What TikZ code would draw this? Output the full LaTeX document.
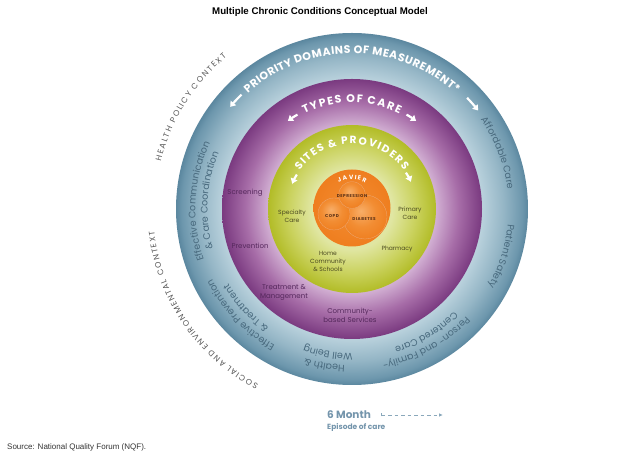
\documentclass[tikz,border=0pt]{standalone}
\usepackage{fontspec}
\setmainfont{Liberation Sans}
\newfontfamily\pop{Poppins}
\newfontfamily\popls[LetterSpace=12]{Poppins}
\usetikzlibrary{decorations.text, arrows.meta}

\definecolor{bDark}{HTML}{5B879F}
\definecolor{bDeep}{HTML}{6D97AD}
\definecolor{bMid}{HTML}{95B6C6}
\definecolor{bLight}{HTML}{BAD2DD}
\definecolor{pDark}{HTML}{7A3A80}
\definecolor{pMid}{HTML}{A76DA8}
\definecolor{pLight}{HTML}{D2B0D3}
\definecolor{gDark}{HTML}{B2BC27}
\definecolor{gMid}{HTML}{CAD25E}
\definecolor{gLight}{HTML}{E0E6A2}
\definecolor{oBase}{HTML}{EF7E1F}
\definecolor{oSoft}{HTML}{F28D33}
\definecolor{oLight}{HTML}{F8AE68}
\definecolor{oDark}{HTML}{E0701A}
\definecolor{blueText}{HTML}{48697D}
\definecolor{purText}{HTML}{55285C}
\definecolor{grnText}{HTML}{4B4A20}
\definecolor{outText}{HTML}{555555}
\definecolor{monthBlue}{HTML}{7495AC}
\definecolor{dashBlue}{HTML}{8AA8BB}
\definecolor{coreText}{HTML}{5A3015}
\definecolor{srcText}{HTML}{333333}

\pgfdeclareradialshading{blueRing}{\pgfpoint{0bp}{0bp}}{color(0bp)=(bLight); color(18.4bp)=(bLight); color(21.5bp)=(bMid); color(24.2bp)=(bDeep); color(25bp)=(bDark); color(50bp)=(bDark)}
\pgfdeclareradialshading{purpleRing}{\pgfpoint{0bp}{0bp}}{color(0bp)=(pLight); color(16.1bp)=(pLight); color(20.5bp)=(pMid); color(25bp)=(pDark); color(50bp)=(pDark)}
\pgfdeclareradialshading{greenDisc}{\pgfpoint{0bp}{0bp}}{color(0bp)=(gLight); color(12bp)=(gLight); color(19bp)=(gMid); color(25bp)=(gDark); color(50bp)=(gDark)}
\pgfdeclareradialshading{orangeDisc}{\pgfpoint{0bp}{0bp}}{color(0bp)=(oSoft); color(25bp)=(oBase); color(50bp)=(oBase)}
\pgfdeclareradialshading{orangeBall}{\pgfpoint{-5bp}{7bp}}{color(0bp)=(oLight); color(16bp)=(oSoft); color(30bp)=(oBase); color(50bp)=(oBase)}

% radius, start, end, colour, font, text  (spread to fill the arc)
\newcommand\fitarc[6]{%
  \path[decorate, decoration={text effects along path, text={#6},
      text effects/.cd, text along path, fit text to path,
      characters={text=#4, font={#5}}}]
    (C) ++(#2:#1) arc[start angle=#2, end angle=#3, radius=#1];}
% radius, start, end, format, text (centred on the arc)
\newcommand\arcline[5]{%
  \path[decorate, decoration={text along path, text align=center,
      text={|#4|#5}}]
    (C) ++(#2:#1) arc[start angle=#2, end angle=#3, radius=#1];}

\begin{document}
\begin{tikzpicture}[x=1pt,y=1pt,
  ringarrow/.style={draw=white, line width=2.2pt, -{Triangle[width=7pt,length=5pt]}},
  purlabel/.style={font=\pop\fontsize{7}{9}\selectfont, text=purText, align=center, inner sep=0pt},
  grnlabel/.style={font=\pop\fontsize{6}{8}\selectfont, text=grnText, align=center, inner sep=0pt},
  corelabel/.style={font=\popls\bfseries\fontsize{4.2}{5}\selectfont, text=coreText, inner sep=0pt},
  ]
\fill[white] (0,0) rectangle (624,460);
\useasboundingbox (0,0) rectangle (624,460);
\coordinate (C) at (352,251);

% rings
\shade[shading=blueRing] (C) circle[radius=176pt];
\shade[shading=purpleRing] (C) circle[radius=130pt];
\shade[shading=greenDisc] (C) circle[radius=84pt];
\coordinate (O) at (352,252);
\shade[shading=orangeDisc] (O) circle[radius=38.5pt];
\shade[shading=orangeBall, draw=oDark!60, line width=0.3pt] (365,243) circle[radius=22pt];
\shade[shading=orangeBall, draw=oDark!60, line width=0.3pt] (334,246) circle[radius=16pt];
\shade[shading=orangeBall, draw=oDark!60, line width=0.3pt] (352,265) circle[radius=13.3pt];

% core labels
\node[corelabel] (dep) at (352,264) {DEPRESSION};
\node[corelabel] (copd) at (332,244) {COPD};
\node[corelabel] (dia) at (364,241) {DIABETES};

% ring titles
\fitarc{155.5pt}{132}{48}{white}{\pop\bfseries\fontsize{11}{11}\selectfont}{PRIORITY DOMAINS OF MEASUREMENT*}
\fitarc{106.5pt}{116.5}{63.5}{white}{\pop\bfseries\fontsize{11}{11}\selectfont}{TYPES OF CARE}
\fitarc{65pt}{143.5}{36.5}{white}{\pop\bfseries\fontsize{10.5}{10.5}\selectfont}{SITES {\&} PROVIDERS}
\fitarc{29.5pt}{117}{63}{white}{\pop\bfseries\fontsize{6}{6}\selectfont}{JAVIER}

% ring arrows
\draw[ringarrow] (C) ++(134:159pt) arc[start angle=134, end angle=140, radius=159pt];
\draw[ringarrow] (C) ++(44:160pt) arc[start angle=44, end angle=38, radius=160pt];
\draw[ringarrow] (C) ++(120:109pt) arc[start angle=120, end angle=126, radius=109pt];
\draw[ringarrow] (C) ++(60:109pt) arc[start angle=60, end angle=54, radius=109pt];
\draw[ringarrow] (C) ++(148:65pt) arc[start angle=148, end angle=157, radius=65pt];
\draw[ringarrow] (C) ++(34:65pt) arc[start angle=34, end angle=25, radius=65pt];

% blue ring domains
\def\bfmt{\pop\fontsize{9.5}{9.5}\selectfont\color{blueText}}
\arcline{156.5pt}{237}{117}{\bfmt}{Effective Communication}
\arcline{144.5pt}{236.5}{116.5}{\bfmt}{{\&} Care Coordination}
\arcline{156.5pt}{81}{-39}{\bfmt}{Affordable Care}
\arcline{156.5pt}{42.5}{-77.5}{\bfmt}{Patient Safety}
\arcline{156.5pt}{-1}{-121}{\bfmt}{Person- and Family-}
\arcline{144.5pt}{1}{-119}{\bfmt}{Centered Care}
\arcline{156.5pt}{-40}{-160}{\bfmt}{Health {\&}}
\arcline{144.5pt}{-39.5}{-159.5}{\bfmt}{Well Being}
\arcline{156.5pt}{283.5}{163.5}{\bfmt}{Effective Prevention}
\arcline{144.5pt}{283}{163}{\bfmt}{{\&} Treatment}

% outer contexts
\fitarc{197pt}{166}{129.5}{outText}{\pop\fontsize{8}{8}\selectfont}{HEALTH POLICY CONTEXT}
\fitarc{199pt}{242}{186.5}{outText}{\pop\fontsize{8}{8}\selectfont}{SOCIAL AND ENVIRONMENTAL CONTEXT}

% types of care
\node[purlabel] (scr) at (245,267) {Screening};
\node[purlabel] (prev) at (250,214) {Prevention};
\node[purlabel] (treat) at (284,167.5) {Treatment \&\\Management};
\node[purlabel] (comm) at (350,144.5) {Community-\\based Services};

% sites & providers
\node[grnlabel] (spec) at (292,244) {Specialty\\Care};
\node[grnlabel] (prim) at (410,247) {Primary\\Care};
\node[grnlabel] (pharm) at (397,211) {Pharmacy};
\node[grnlabel] (home) at (328,199) {Home\\Community\\\& Schools};

% title and source
\node[font=\bfseries\fontsize{9.7}{11}\selectfont] (title) at (320,448) {Multiple Chronic Conditions Conceptual Model};
\node[anchor=west, inner sep=0pt, font=\fontsize{8}{9}\selectfont, text=srcText] (src) at (7,13) {Source: National Quality Forum (NQF).};

% episode
\node[anchor=west, inner sep=0pt, font=\pop\bfseries\fontsize{10.5}{11}\selectfont, text=monthBlue] (month) at (327,45) {6 Month};
\node[anchor=west, inner sep=0pt, font=\pop\bfseries\fontsize{7.5}{8}\selectfont, text=monthBlue] (episode) at (327,33) {Episode of care};
\coordinate (dashS) at (381,45);
\coordinate (dashE) at (443,45);
\draw[dashBlue, line width=0.8pt, dash pattern=on 3.5pt off 3pt, {Bar[width=3pt]}-{Latex[length=4pt,width=3.5pt]}] (dashS) -- (dashE);
\end{tikzpicture}
\end{document}
